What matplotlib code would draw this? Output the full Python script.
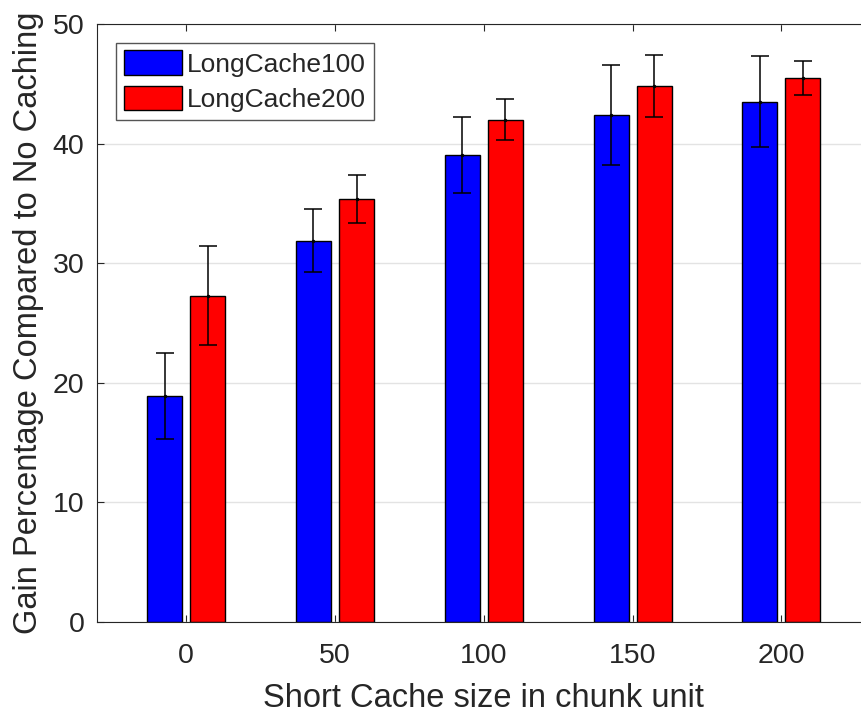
import numpy as np
import matplotlib
matplotlib.use("Agg")
import matplotlib.pyplot as plt

plt.rcParams['font.family'] = ['Liberation Sans', 'DejaVu Sans']

# Short cache sizes (chunk units) and mean gain with error half-widths
short_cache = ['0', '50', '100', '150', '200']
long100 = [18.9, 31.9, 39.05, 42.4, 43.5]
long100_err = [3.6, 2.6, 3.2, 4.15, 3.8]
long200 = [27.3, 35.4, 42.0, 44.8, 45.5]
long200_err = [4.1, 2.0, 1.7, 2.6, 1.45]

axis_col = '#262626'

fig = plt.figure(figsize=(8.61, 7.15), dpi=100)
ax = fig.add_axes([0.1127, 0.130, 0.8985, 0.8364])

x = np.arange(len(short_cache))
w = 0.235
off = 0.145

ax.bar(x - off, long100, w, color='#0000ff', edgecolor='black', linewidth=1.0,
       label='LongCache100', zorder=2)
ax.bar(x + off, long200, w, color='#ff0000', edgecolor='black', linewidth=1.0,
       label='LongCache200', zorder=2)

# error bars on top of the bars
ax.errorbar(x - off, long100, yerr=long100_err, fmt='.', color='black',
            markersize=3, elinewidth=1.1, capsize=6.5, capthick=1.1, zorder=3)
ax.errorbar(x + off, long200, yerr=long200_err, fmt='.', color='black',
            markersize=3, elinewidth=1.1, capsize=6.5, capthick=1.1, zorder=3)

ax.set_xlim(-0.6, 4.6)
ax.set_ylim(0, 50)
ax.set_xticks(x)
ax.set_xticklabels(short_cache)
ax.set_yticks([0, 10, 20, 30, 40, 50])

ax.grid(axis='y', color='#e3e3e3', linewidth=1.0)
ax.set_axisbelow(True)

for sp in ax.spines.values():
    sp.set_color(axis_col)
    sp.set_linewidth(0.8)

ax.tick_params(direction='in', length=5, width=0.8, colors=axis_col,
               labelsize=20.5, top=True, right=True)
ax.tick_params(axis='x', pad=15)
ax.tick_params(axis='y', pad=9)

ax.set_xlabel('Short Cache size in chunk unit', fontsize=23.5, color=axis_col,
              labelpad=10)
ax.set_ylabel('Gain Percentage Compared to No Caching', fontsize=23.5,
              color=axis_col, labelpad=6)

leg = ax.legend(loc='upper left', bbox_to_anchor=(0.024, 0.969),
                borderaxespad=0, fontsize=19, fancybox=False, framealpha=1,
                edgecolor='#555555', handlelength=2.2, handleheight=1.05,
                handletextpad=0.2, labelspacing=0.35, borderpad=0.3)
leg.get_frame().set_linewidth(1.0)
for t in leg.get_texts():
    t.set_color(axis_col)

fig.savefig('out.png', dpi=100)
